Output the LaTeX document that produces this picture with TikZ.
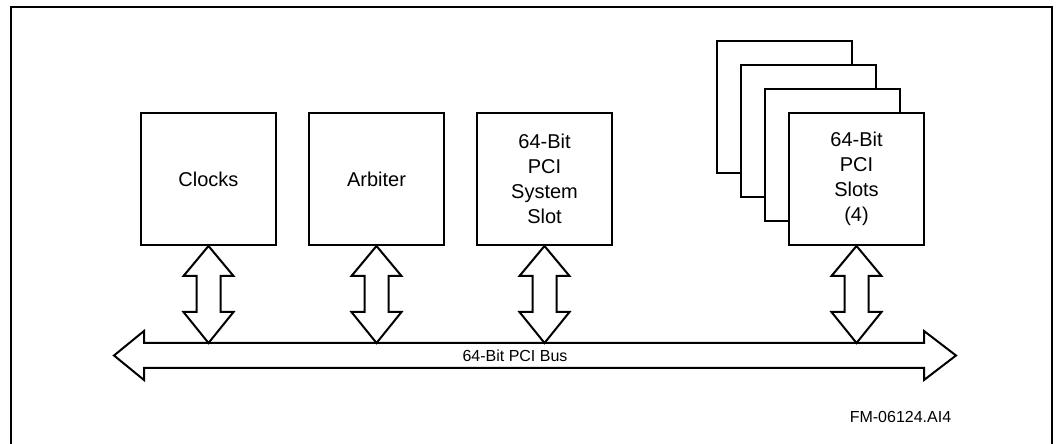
\documentclass[tikz,border=0pt]{standalone}
\usepackage{fontspec}
\setmainfont{Liberation Sans}
\usetikzlibrary{calc}
\tikzset{
  unit/.style={draw=black, line width=2bp, fill=white, minimum width=135bp, minimum height=132bp,
    inner sep=0pt, align=center, font=\fontsize{20bp}{25bp}\selectfont},
  outline/.style={draw=black, line width=2bp, fill=white, line join=miter},
  frameline/.style={draw=black, line width=2.3bp},
  smalltext/.style={inner sep=0pt, font=\fontsize{16bp}{19bp}\selectfont}
}
\newcommand{\busarrow}[2]{%
  \draw[outline] let \p1=(#1), \p2=(#2) in
    (\x1,\y1) -- ({\x1+25bp},{\y1-30bp}) -- ({\x1+12bp},{\y1-30bp}) -- ({\x1+12bp},{\y2+31bp})
    -- ({\x1+25bp},{\y2+31bp}) -- (\x1,\y2) -- ({\x1-25bp},{\y2+31bp}) -- ({\x1-12bp},{\y2+31bp})
    -- ({\x1-12bp},{\y1-30bp}) -- ({\x1-25bp},{\y1-30bp}) -- cycle;}
\begin{document}
\begin{tikzpicture}[x=1bp,y=-1bp]
\useasboundingbox (0,0) rectangle (1061,444);
% frame
\draw[frameline] (11,444) -- (11,7) -- (1052,7) -- (1052,444);
% boxes
\node[unit] (clk) at (208.5,179) {Clocks};
\node[unit] (arb) at (376.5,179) {Arbiter};
\node[unit] (sys) at (544.5,179) {64-Bit\\PCI\\System\\Slot};
\node[unit] (slot3) at (784.5,107) {};
\node[unit] (slot2) at (808.5,131) {};
\node[unit] (slot1) at (832.5,155) {};
\node[unit] (slot0) at (856.5,179) {64-Bit\\PCI\\Slots\\(4)};
% bus
\coordinate (bustop) at (535,343);
\draw[outline] (114,355.5) -- (144,331) -- (144,343) -- (924,343) -- (924,331) -- (956,355.5)
  -- (924,380) -- (924,368) -- (144,368) -- (144,380) -- cycle;
\node[smalltext] (buslabel) at (515,356) {64-Bit PCI Bus};
% connectors
\busarrow{clk.south}{clk.south |- bustop}
\busarrow{arb.south}{arb.south |- bustop}
\busarrow{sys.south}{sys.south |- bustop}
\busarrow{slot0.south}{slot0.south |- bustop}
% figure id
\node[smalltext] (figid) at (900.5,417) {FM-06124.AI4};
\end{tikzpicture}
\end{document}
